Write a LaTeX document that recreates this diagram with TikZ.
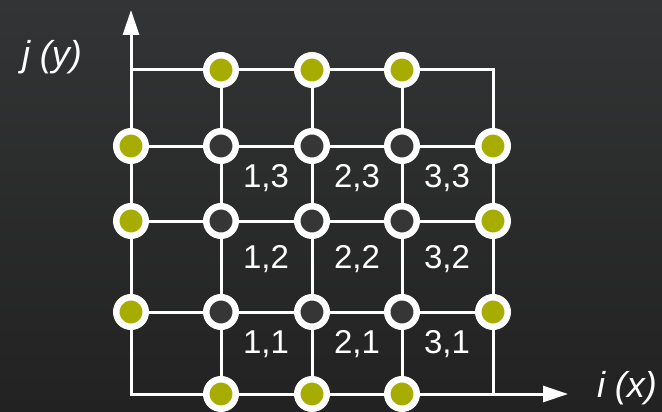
\documentclass[tikz,border=0pt]{standalone}
\usepackage{fontspec}
\setmainfont{Liberation Sans}
\usepackage{tikz}
\usetikzlibrary{arrows.meta}
\definecolor{bg-top}{HTML}{333435}
\definecolor{bg-bottom}{HTML}{222222}
\definecolor{ghost-green}{HTML}{A6AD00}
\definecolor{cell-dark}{HTML}{363636}

\begin{document}
\begin{tikzpicture}[x=1pt, y=-1pt,
    gridline/.style={draw=white, line width=3pt},
    axis/.style={gridline, {Triangle[length=25pt, width=16pt]}-{Triangle[length=25pt, width=16pt]}},
    ghost/.style={circle, draw=white, line width=6.5pt, fill=ghost-green,
                  minimum size=29.5pt, inner sep=0pt},
    cell/.style={ghost, fill=cell-dark},
    idx/.style={text=white, font=\fontsize{33}{33}\selectfont, anchor=base},
    axlabel/.style={idx, font=\fontsize{36}{36}\selectfont\itshape},
]

\useasboundingbox (0,0) rectangle (662,412);
\shade[top color=bg-top, bottom color=bg-bottom] (0,0) rectangle (662,412);

% grid points, j=0 is the bottom row
\foreach \i/\x in {0/131, 1/221, 2/312, 3/402, 4/493}
  \foreach \j/\y in {0/394, 1/312, 2/221, 3/146, 4/70}
    \coordinate (p-\i-\j) at (\x,\y);
\coordinate (yend) at (131,10);
\coordinate (xend) at (568,394);

\draw[axis] (yend) -- (p-0-0) -- (xend);
\draw[gridline] (p-0-4) -- (p-4-4) -- (p-4-0);
\foreach \k in {1,2,3} {
  \draw[gridline] (p-0-\k) -- (p-4-\k);
  \draw[gridline] (p-\k-0) -- (p-\k-4);
}

\foreach \k in {1,2,3} {
  \node[ghost] (n-\k-4) at (p-\k-4) {};
  \node[ghost] (n-\k-0) at (p-\k-0) {};
  \node[ghost] (n-0-\k) at (p-0-\k) {};
  \node[ghost] (n-4-\k) at (p-4-\k) {};
  \foreach \m in {1,2,3}
    \node[cell] (n-\k-\m) at (p-\k-\m) {};
}

\foreach \a/\xa in {1/266, 2/357, 3/447}
  \foreach \b/\yb in {1/353, 2/268, 3/187}
    \node[idx] (c-\a-\b) at (\xa,\yb) {\a,\b};

\node[axlabel] (ylabel) at (52,67) {j (y)};
\node[axlabel] (xlabel) at (627,397) {i (x)};

\end{tikzpicture}
\end{document}
